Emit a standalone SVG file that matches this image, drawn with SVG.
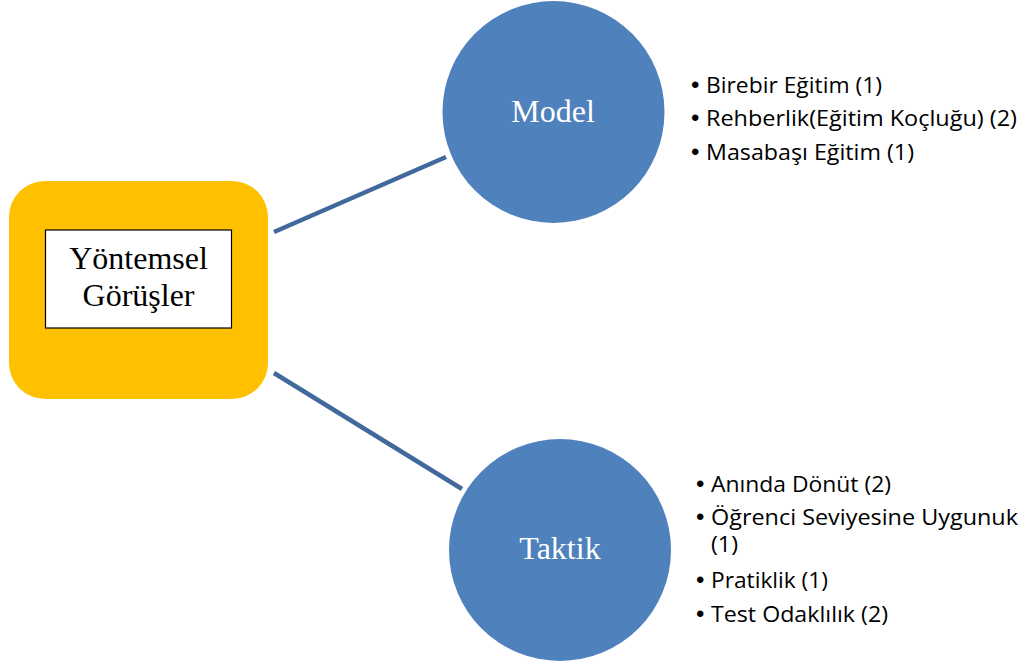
<svg xmlns="http://www.w3.org/2000/svg" width="1025" height="665" viewBox="0 0 1025 665">
  <style>
    .conn { stroke: #41699C; stroke-width: 4.5; fill: none; }
    .circle { fill: #4F81BD; }
    .serif { font-family: "Liberation Serif", "Times New Roman", serif; font-size: 32px; }
    .list { font-family: "Open Sans", "Liberation Sans", Arial, sans-serif; font-size: 21.5px; fill: #000; }
    .bul { font-family: "Liberation Sans", Arial, sans-serif; font-size: 24px; fill: #000; }
  </style>
  <rect width="1025" height="665" fill="#FFFFFF"/>
  <g id="connectors">
    <line class="conn" x1="274" y1="232" x2="446" y2="157"/>
    <line class="conn" x1="274" y1="373" x2="462" y2="489"/>
  </g>
  <g id="node-yontemsel">
    <rect x="9" y="181" width="259" height="218" rx="36" ry="36" fill="#FFC000"/>
    <rect x="45.5" y="230" width="186" height="98" fill="#FFFFFF" stroke="#000000" stroke-width="1.2"/>
    <text class="serif" x="138.5" y="269" text-anchor="middle" fill="#000">Yöntemsel</text>
    <text class="serif" x="138.5" y="306" text-anchor="middle" fill="#000">Görüşler</text>
  </g>
  <g id="node-model">
    <circle class="circle" cx="553.5" cy="112" r="111"/>
    <text class="serif" x="553" y="122" text-anchor="middle" fill="#FFFFFF">Model</text>
  </g>
  <g id="node-taktik">
    <circle class="circle" cx="560" cy="550" r="111"/>
    <text class="serif" x="560" y="559" text-anchor="middle" fill="#FFFFFF">Taktik</text>
  </g>
  <g id="list-model" class="list">
    <text class="bul" x="691" y="93">•</text>
    <text x="706" y="93" textLength="176" lengthAdjust="spacingAndGlyphs">Birebir Eğitim (1)</text>
    <text class="bul" x="691" y="126">•</text>
    <text x="706" y="126" textLength="311" lengthAdjust="spacingAndGlyphs">Rehberlik(Eğitim Koçluğu) (2)</text>
    <text class="bul" x="691" y="160">•</text>
    <text x="706" y="160" textLength="208" lengthAdjust="spacingAndGlyphs">Masabaşı Eğitim (1)</text>
  </g>
  <g id="list-taktik" class="list">
    <text class="bul" x="696" y="492">•</text>
    <text x="711" y="492" textLength="180" lengthAdjust="spacingAndGlyphs">Anında Dönüt (2)</text>
    <text class="bul" x="696" y="525">•</text>
    <text x="711" y="525" textLength="307" lengthAdjust="spacingAndGlyphs">Öğrenci Seviyesine Uygunuk</text>
    <text x="711" y="552" textLength="27" lengthAdjust="spacingAndGlyphs">(1)</text>
    <text class="bul" x="696" y="588">•</text>
    <text x="711" y="588" textLength="117" lengthAdjust="spacingAndGlyphs">Pratiklik (1)</text>
    <text class="bul" x="696" y="622">•</text>
    <text x="711" y="622" textLength="177" lengthAdjust="spacingAndGlyphs">Test Odaklılık (2)</text>
  </g>
</svg>
